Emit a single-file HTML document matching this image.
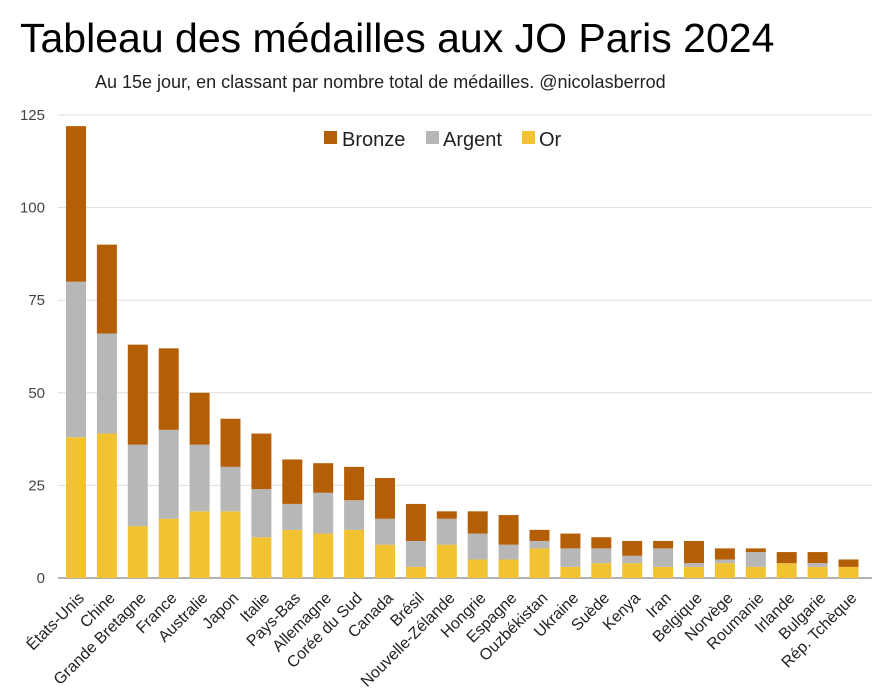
<!DOCTYPE html>
<html><head><meta charset="utf-8"><style>
body{margin:0;background:#fff;width:884px;height:695px;overflow:hidden;font-family:"Liberation Sans",Arial,sans-serif}
</style></head><body>
<svg width="884" height="695" id="chart" style="font-family:'Liberation Sans',Arial,sans-serif">
<text x="20" y="52" font-size="41" fill="#000">Tableau des médailles aux JO Paris 2024</text>
<text x="95" y="88" font-size="18" fill="#222">Au 15e jour, en classant par nombre total de médailles. @nicolasberrod</text>
<g id="grid"></g><g id="bars"></g><g id="labels"></g>
<g>
<rect x="324" y="131" width="13" height="13" fill="#b45f06"/>
<text x="342" y="146" font-size="20" fill="#222">Bronze</text>
<rect x="426" y="131" width="13" height="13" fill="#b7b7b7"/>
<text x="443" y="146" font-size="20" fill="#222">Argent</text>
<rect x="522" y="131" width="13" height="13" fill="#f1c232"/>
<text x="539" y="146" font-size="20" fill="#222">Or</text>
</g>
</svg>
<script>
const categories=["États-Unis","Chine","Grande Bretagne","France","Australie","Japon","Italie","Pays-Bas","Allemagne","Corée du Sud","Canada","Brésil","Nouvelle-Zélande","Hongrie","Espagne","Ouzbékistan","Ukraine","Suède","Kenya","Iran","Belgique","Norvège","Roumanie","Irlande","Bulgarie","Rép. Tchèque"];
const gold=[38,39,14,16,18,18,11,13,12,13,9,3,9,5,5,8,3,4,4,3,3,4,3,4,3,3];
const silver=[42,27,22,24,18,12,13,7,11,8,7,7,7,7,4,2,5,4,2,5,1,1,4,0,1,0];
const bronze=[42,24,27,22,14,13,15,12,8,9,11,10,2,6,8,3,4,3,4,2,6,3,1,3,3,2];
const yTicks=[0,25,50,75,100,125];
const NS="http://www.w3.org/2000/svg";
const y0=578,pxPer=(578-115)/125,plotL=58,plotR=872,first=76,step=30.9,bw=20;
const yS=v=>y0-v*pxPer, xS=i=>first+i*step;
function mk(t,a,p){const e=document.createElementNS(NS,t);for(const k in a)e.setAttribute(k,a[k]);p.appendChild(e);return e;}
const grid=document.getElementById('grid'),bars=document.getElementById('bars'),labels=document.getElementById('labels');
yTicks.forEach(v=>{
 const l=mk('line',{x1:plotL,x2:plotR,y1:yS(v),y2:yS(v),stroke:v===0?'#999':'#ddd','stroke-width':v===0?1.5:1},grid);
 
 
 const t=mk('text',{x:45,y:yS(v)+5,'text-anchor':'end','font-size':15,fill:'#444'},grid);
 t.textContent=v;
 
 
});
categories.forEach((c,i)=>{
 const x=xS(i)-bw/2;
 const segs=[[gold[i],'#f1c232','or'],[silver[i],'#b7b7b7','argent'],[bronze[i],'#b45f06','bronze']];
 let base=0;
 segs.forEach(s=>{
  const r=mk('rect',{x:x,y:yS(base+s[0]),width:bw,height:s[0]*pxPer,fill:s[1]},bars);
  
  
  base+=s[0];
 });
 const lx=xS(i)+9, ly=599;
 const t=mk('text',{x:lx,y:ly,'text-anchor':'end','font-size':16,fill:'#222',transform:`rotate(-45 ${lx} ${ly})`},labels);
 t.textContent=c;
 
 
});
</script>
</body></html>
